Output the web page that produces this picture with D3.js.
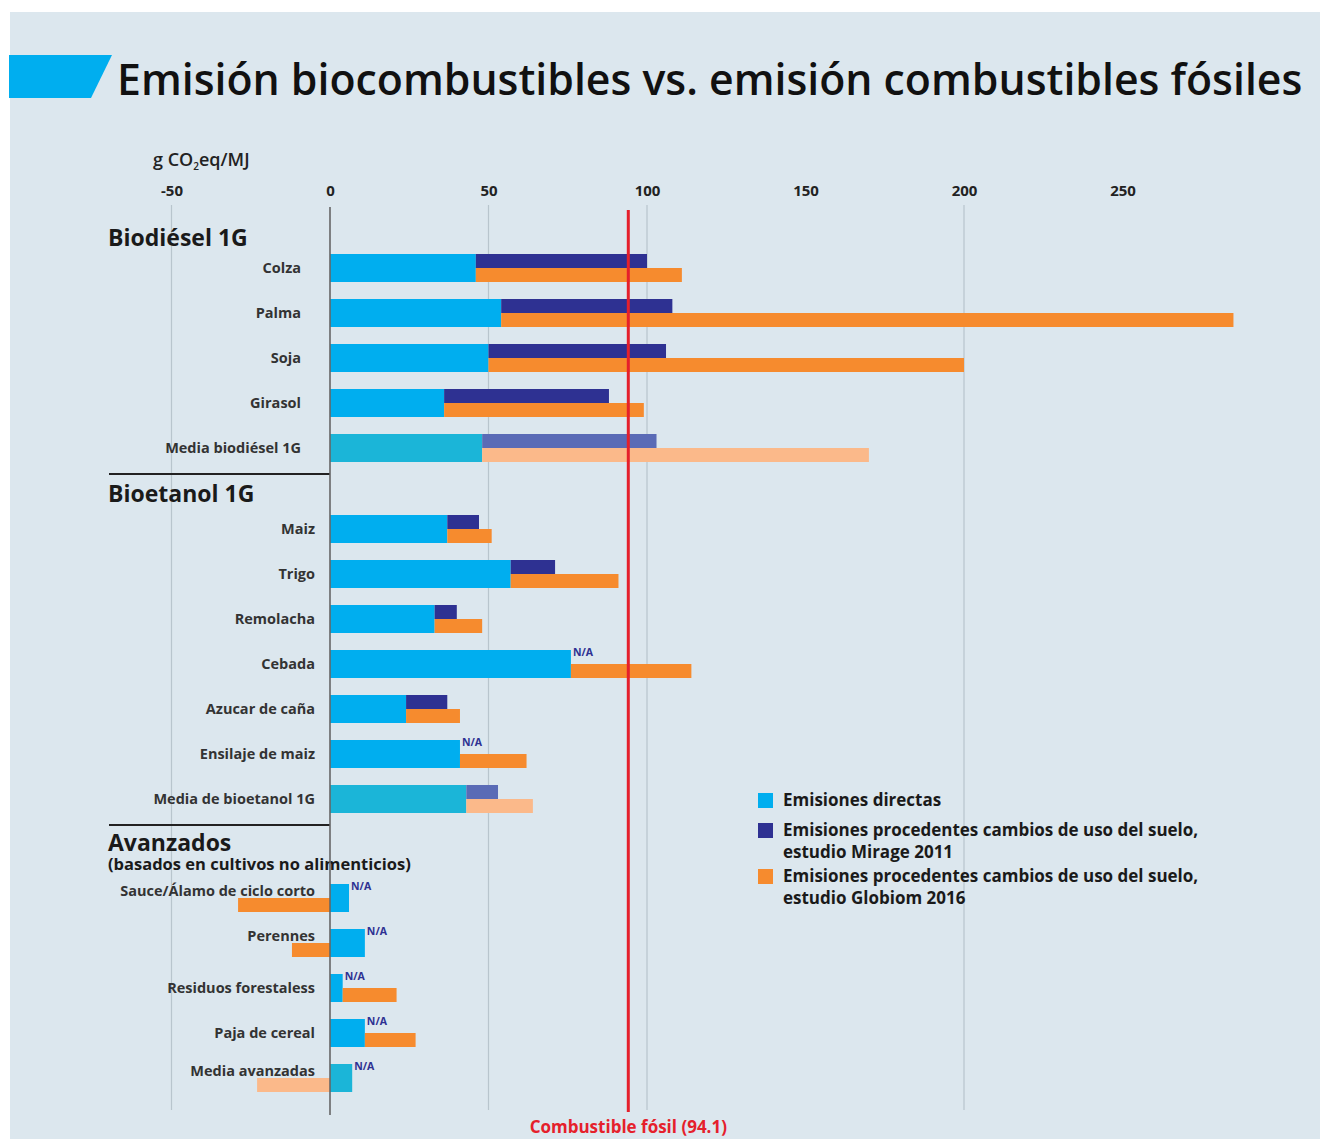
<!DOCTYPE html>
<html>
<head>
<meta charset="utf-8">
<script src="https://cdn.jsdelivr.net/npm/d3@7"></script>
<style>
  body { margin: 0; background: #fff; }
  text { font-family: "Open Sans", sans-serif; }
</style>
</head>
<body>
<script>
// data
const groups = ["Biodiésel 1G", "Bioetanol 1G", "Avanzados"];
const categories = ["Colza", "Palma", "Soja", "Girasol", "Media biodiésel 1G",
  "Maiz", "Trigo", "Remolacha", "Cebada", "Azucar de caña", "Ensilaje de maiz", "Media de bioetanol 1G",
  "Sauce/Álamo de ciclo corto", "Perennes", "Residuos forestaless", "Paja de cereal", "Media avanzadas"];
const groupOf = [0, 0, 0, 0, 0, 1, 1, 1, 1, 1, 1, 1, 2, 2, 2, 2, 2];
// direct emissions, and land-use change emissions added on top (null = N/A)
const directas = [46, 54, 50, 36, 48, 37, 57, 33, 76, 24, 41, 43, 6, 11, 4, 11, 7];
const mirage = [54, 54, 56, 52, 55, 10, 14, 7, null, 13, null, 10, null, null, null, null, null];
const globiom = [65, 231, 150, 63, 122, 14, 34, 15, 38, 17, 21, 21, -29, -12, 17, 16, -23];
const tickValues = [-50, 0, 50, 100, 150, 200, 250];
const gridValues = [-50, 50, 100, 200];
const fosil = 94.1;
const legendLabels = [
  ["Emisiones directas"],
  ["Emisiones procedentes cambios de uso del suelo,", "estudio Mirage 2011"],
  ["Emisiones procedentes cambios de uso del suelo,", "estudio Globiom 2016"]
];

const W = 1320, H = 1139;
const col = { dir: "#00aeef", mir: "#2e3192", glo: "#f68b2e", dirM: "#1bb5d8", mirM: "#5a6bb6", gloM: "#fbb98a" };
const groupGap = [0, 0.8, 2.0];

const svg = d3.select("body").append("svg").attr("width", W).attr("height", H);
svg.append("rect").attr("x", 10).attr("y", 12).attr("width", W - 10).attr("height", H - 12).attr("fill", "#dce7ee");

// title, sized to the width it takes in the original
svg.append("polygon").attr("points", "9,55 112,55 91,98 9,98").attr("fill", "#00aeef");
const title = svg.append("text").attr("x", 117).attr("y", 95)
  .style("font-size", "46px").style("font-weight", 600).attr("fill", "#111")
  .text("Emisión biocombustibles vs. emisión combustibles fósiles");
const tl = title.node().getComputedTextLength();
if (tl > 1186) title.style("font-size", (46 * 1186 / tl).toFixed(1) + "px");

const x = d3.scaleLinear().domain([0, 200]).range([330, 964]);
const y = d3.scaleLinear().domain([0, 1]).range([268, 313]);
const rows = categories.map((c, i) => ({
  name: c, g: groupOf[i], slot: i + groupGap[groupOf[i]],
  d: directas[i], m: mirage[i], gl: globiom[i], media: c.startsWith("Media")
}));

// unit
svg.append("text").attr("x", 153).attr("y", 166).style("font-size", "18px").style("font-weight", 600).attr("fill", "#222")
  .call(t => {
    t.append("tspan").text("g CO");
    t.append("tspan").text("2").style("font-size", "10px").attr("dy", 4);
    t.append("tspan").text("eq/MJ").attr("dy", -4);
  });

// axis
svg.append("g").attr("transform", "translate(0,196)")
  .call(d3.axisTop(x).tickValues(tickValues).tickSize(0).tickPadding(0).tickFormat(d => String(d)))
  .call(g => g.select(".domain").remove())
  .call(g => g.selectAll("text").style("font-size", "15px").style("font-weight", 700).attr("fill", "#222")
    .style("font-family", "'Open Sans', sans-serif"));

svg.selectAll(".grid").data(gridValues).join("line").attr("class", "grid")
  .attr("x1", d => x(d)).attr("x2", d => x(d)).attr("y1", 205).attr("y2", 1110)
  .attr("stroke", "#b8c5cd").attr("stroke-width", 1.2);

// headers and separators
const firstSlot = g => d3.min(rows.filter(r => r.g === g), r => r.slot);
const lastSlot = g => d3.max(rows.filter(r => r.g === g), r => r.slot);
const headOff = [-30, -35, -55];
groups.forEach((name, g) => {
  svg.append("text").attr("x", 108).attr("y", y(firstSlot(g)) + headOff[g]).attr("dy", "0.35em")
    .style("font-size", "23px").style("font-weight", 700).attr("fill", "#1a1a1a").text(name);
  if (g > 0) {
    svg.append("line").attr("x1", 109).attr("x2", x(0)).attr("y1", y(lastSlot(g - 1)) + 26).attr("y2", y(lastSlot(g - 1)) + 26)
      .attr("stroke", "#222").attr("stroke-width", 2);
  }
});
svg.append("text").attr("x", 108).attr("y", y(firstSlot(2)) - 34).attr("dy", "0.35em")
  .style("font-size", "16.5px").style("font-weight", 700).attr("fill", "#1a1a1a")
  .text("(basados en cultivos no alimenticios)");

// bars
const bh = 28;
const bars = svg.append("g");
bars.selectAll(".dir").data(rows).join("rect").attr("class", "dir")
  .attr("x", x(0)).attr("y", d => y(d.slot) - bh / 2)
  .attr("width", d => x(d.d) - x(0)).attr("height", bh)
  .attr("fill", d => d.media ? col.dirM : col.dir);
bars.selectAll(".mir").data(rows.filter(d => d.m !== null)).join("rect").attr("class", "mir")
  .attr("x", d => x(d.d)).attr("y", d => y(d.slot) - bh / 2)
  .attr("width", d => x(d.d + d.m) - x(d.d)).attr("height", bh / 2)
  .attr("fill", d => d.media ? col.mirM : col.mir);
bars.selectAll(".glo").data(rows).join("rect").attr("class", "glo")
  .attr("x", d => d.gl < 0 ? x(d.gl) : x(d.d)).attr("y", d => y(d.slot))
  .attr("width", d => d.gl < 0 ? x(0) - x(d.gl) : x(d.d + d.gl) - x(d.d)).attr("height", bh / 2)
  .attr("fill", d => d.media ? col.gloM : col.glo);
bars.selectAll(".na").data(rows.filter(d => d.m === null)).join("text").attr("class", "na")
  .attr("x", d => x(d.d) + 2).attr("y", d => y(d.slot) - 8)
  .style("font-size", "10.5px").style("font-weight", 700).attr("fill", "#2e3192").text("N/A");

// row labels
const labelEnd = [301, 315, 315];
svg.selectAll(".lab").data(rows).join("text").attr("class", "lab")
  .attr("x", d => labelEnd[d.g]).attr("y", d => y(d.slot) - (d.gl < 0 ? 7 : 0)).attr("dy", "0.35em")
  .attr("text-anchor", "end").style("font-size", "14.5px").style("font-weight", 700).attr("fill", "#333")
  .text(d => d.name);

// zero axis and fossil line
svg.append("line").attr("x1", x(0)).attr("x2", x(0)).attr("y1", 207).attr("y2", 1115).attr("stroke", "#666").attr("stroke-width", 1.6);
svg.append("line").attr("x1", x(fosil)).attr("x2", x(fosil)).attr("y1", 210).attr("y2", 1112).attr("stroke", "#e5202b").attr("stroke-width", 3);
svg.append("text").attr("x", x(fosil)).attr("y", 1127).attr("dy", "0.35em").attr("text-anchor", "middle")
  .style("font-size", "17px").style("font-weight", 700).attr("fill", "#e5202b")
  .text(`Combustible fósil (${fosil})`);

// legend
const legColors = [col.dir, col.mir, col.glo];
const legY = [800, 830, 876];
const legend = svg.append("g");
legendLabels.forEach((lines, i) => {
  legend.append("rect").attr("x", 758).attr("y", legY[i] - 7).attr("width", 15).attr("height", 15).attr("fill", legColors[i]);
  lines.forEach((l, j) => {
    legend.append("text").attr("x", 783).attr("y", legY[i] + j * 22).attr("dy", "0.35em")
      .style("font-size", "17px").style("font-weight", 700).attr("fill", "#1a1a1a").text(l);
  });
});
</script>
</body>
</html>
